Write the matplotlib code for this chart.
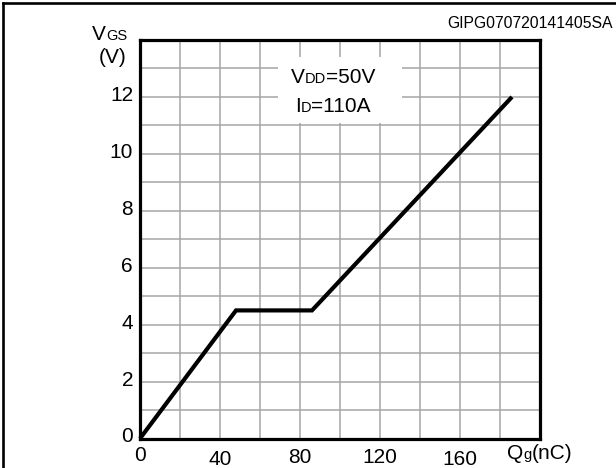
import matplotlib
matplotlib.use("Agg")
import matplotlib.pyplot as plt
from matplotlib.patches import Rectangle
from matplotlib.lines import Line2D
from matplotlib.transforms import offset_copy, ScaledTranslation

# ---- data ----
qg = [0, 48, 86, 186]          # nC
vgs = [0, 4.5, 4.5, 12]        # V
xtick_vals = [0, 40, 80, 120, 160]
xtick_labels = ["0", "40", "80", "120", "160"]
ytick_vals = [0, 2, 4, 6, 8, 10, 12]
ytick_labels = ["0", "2", "4", "6", "8", "10", "12"]
x_grid = list(range(0, 201, 20))
y_grid = list(range(0, 15, 1))
code_label = "GIPG070720141405SA"

plt.rcParams['font.family'] = ['Liberation Sans', 'DejaVu Sans']

W, H = 616, 468
DPI = 100
fig = plt.figure(figsize=(W / DPI, H / DPI), dpi=DPI)
ax = fig.add_axes([140 / W, (H - 438.5) / H, 400 / W, 398.5 / H])

ax.set_xlim(0, 200)
ax.set_ylim(0, 14)

big, small = 15, 10.5

ax.set_xticks(xtick_vals)
ax.set_xticklabels(xtick_labels)
ax.set_xticks(x_grid, minor=True)
ax.set_yticks(ytick_vals)
ax.set_yticklabels(ytick_labels)
ax.set_yticks(y_grid, minor=True)

ax.tick_params(which='both', length=0)
ax.tick_params(axis='x', pad=5.5, labelsize=big)
ax.tick_params(axis='y', pad=5, labelsize=big)
ax.set_axisbelow(True)
ax.grid(which='both', color='#a6a6a6', linewidth=1.1)

# small hand-placement offsets seen in the reference (pixels)
x_off = [0, -4, -1.5, -1.5, -4]
for lab, d in zip(ax.get_xticklabels(), x_off):
    lab.set_transform(lab.get_transform() +
                      ScaledTranslation(0, d / DPI, fig.dpi_scale_trans))
for lab in ax.get_yticklabels():
    lab.set_transform(lab.get_transform() +
                      ScaledTranslation(0, 3.5 / DPI, fig.dpi_scale_trans))

for s in ax.spines.values():
    s.set_linewidth(2.3)
    s.set_color('black')
    s.set_zorder(5)

# white box behind annotation text
ax.add_patch(Rectangle((69, 11.1), 62, 2.3, facecolor='white',
                       edgecolor='none', zorder=1))

ax.plot(qg, vgs, color='black', linewidth=3.0, solid_capstyle='butt',
        solid_joinstyle='miter', zorder=4, clip_on=False)

renderer = fig.canvas.get_renderer()


def mixed(x, y, parts, transform, ha='left'):
    widths = []
    for s, fs in parts:
        t = fig.text(0, 0, s, fontsize=fs)
        widths.append(t.get_window_extent(renderer).width)
        t.remove()
    total = sum(widths)
    off = 0.0
    if ha == 'center':
        off = -total / 2
    elif ha == 'right':
        off = -total
    for (s, fs), w in zip(parts, widths):
        tr = offset_copy(transform, fig=fig, x=off, y=0, units='dots')
        fig.text(x, y, s, fontsize=fs, transform=tr, ha='left',
                 va='baseline', zorder=6)
        off += w


mixed(-0.0325, 1.0, [("V", big), ("GS", small)], ax.transAxes, ha='right')
mixed(-0.0325, 0.9435, [("(V)", big)], ax.transAxes, ha='right')
mixed(96.5, 12.5, [("V", big), ("DD", small), ("=50V", big)], ax.transData,
      ha='center')
mixed(96.5, 11.48, [("I", big), ("D", small), ("=110A", big)], ax.transData,
      ha='center')
mixed(0.9175, -0.052, [("Q", big), ("g", small), ("(nC)", big)],
      ax.transAxes, ha='left')

fig.text(613 / W, 1 - 28 / H, code_label, fontsize=11.3, ha='right',
         va='baseline')

# outer frame (left and top edges visible)
fig.add_artist(Line2D([3 / W, 3 / W], [-0.1, 1 - 3 / H], transform=fig.transFigure,
                      color='black', linewidth=1.9))
fig.add_artist(Line2D([3 / W, 1.1], [1 - 3 / H, 1 - 3 / H], transform=fig.transFigure,
                      color='black', linewidth=1.9))

fig.savefig("out.png", dpi=DPI)
